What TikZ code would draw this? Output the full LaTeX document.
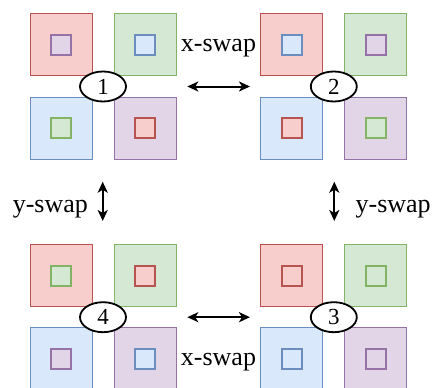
\documentclass[tikz,border=0pt]{standalone}
\usepackage{fontspec}
\setmainfont{Liberation Serif}
\usetikzlibrary{shapes.geometric,arrows.meta}
\definecolor{rF}{HTML}{F8CECC}\definecolor{rS}{HTML}{B85450}
\definecolor{gF}{HTML}{D5E8D4}\definecolor{gS}{HTML}{82B366}
\definecolor{bF}{HTML}{DAE8FC}\definecolor{bS}{HTML}{6C8EBF}
\definecolor{pF}{HTML}{E1D5E7}\definecolor{pS}{HTML}{9673A6}
\tikzset{
 outer/.style={draw=#1S, fill=#1F, line width=1pt, minimum size=62pt, inner sep=0pt},
 innersq/.style={draw=#1S, fill=#1F, line width=2pt, minimum size=20pt, inner sep=0pt},
 num/.style={ellipse, draw, line width=1.8pt, fill=white, minimum width=46pt, minimum height=30pt, inner sep=0pt, font=\fontsize{23}{23}\selectfont},
 lbl/.style={font=\fontsize{26}{26}\selectfont, inner sep=0pt, anchor=base},
 swaparrow/.style={{Stealth[length=11pt,width=10pt,inset=3pt]}-{Stealth[length=11pt,width=10pt,inset=3pt]}, line width=2pt}
}
\newcommand\grp[8]{%
 \node[outer=r] (#1tl) at ({61+#2},{44.8+#3}) {};
 \node[outer=g] (#1tr) at ({145+#2},{44.8+#3}) {};
 \node[outer=b] (#1bl) at ({61+#2},{128.2+#3}) {};
 \node[outer=p] (#1br) at ({145+#2},{128.2+#3}) {};
 \node[innersq=#4] (#1tli) at (#1tl) {};
 \node[innersq=#5] (#1tri) at (#1tr) {};
 \node[innersq=#6] (#1bli) at (#1bl) {};
 \node[innersq=#7] (#1bri) at (#1br) {};
 \node[num] (#1n) at ({103+#2},{86.5+#3}) {#8};
}
\begin{document}
\begin{tikzpicture}[x=1pt,y=-1pt]
\useasboundingbox (0,0) rectangle (432,388);
\grp{ga}{0}{0}{p}{b}{g}{r}{1}
\grp{gb}{230.8}{0}{b}{p}{r}{g}{2}
\grp{gc}{230.8}{230.7}{r}{g}{b}{p}{3}
\grp{gd}{0}{230.7}{g}{r}{p}{b}{4}
\node[lbl] (xs1) at (218.5,51) {x-swap};
\node[lbl] (xs2) at (218.5,365.5) {x-swap};
\node[lbl] (ys1) at (50.3,212) {y-swap};
\node[lbl] (ys2) at (393.2,212) {y-swap};
\coordinate (h1a) at (187.3,86.5); \coordinate (h1b) at (250,86.5);
\coordinate (h2a) at (187.3,317.2); \coordinate (h2b) at (250,317.2);
\coordinate (v1a) at (102.7,181.7); \coordinate (v1b) at (102.7,221);
\coordinate (v2a) at (334.3,181.7); \coordinate (v2b) at (334.3,221);
\draw[swaparrow] (h1a) -- (h1b);
\draw[swaparrow] (h2a) -- (h2b);
\draw[swaparrow] (v1a) -- (v1b);
\draw[swaparrow] (v2a) -- (v2b);
\end{tikzpicture}
\end{document}
